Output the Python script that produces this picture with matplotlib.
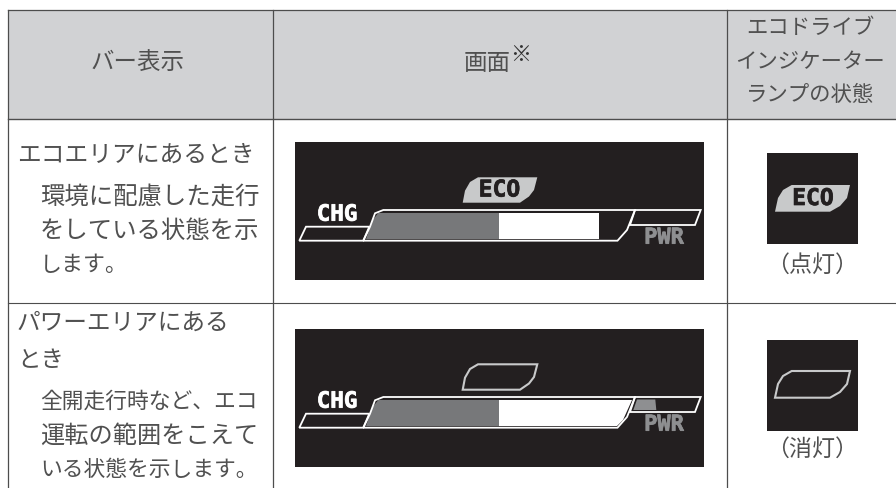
import matplotlib
matplotlib.use("Agg")
import matplotlib.pyplot as plt
from matplotlib.patches import Polygon, Rectangle
import matplotlib.patheffects as pe

plt.rcParams['font.family'] = ['Noto Sans CJK JP', 'DejaVu Sans']

W, H = 896, 488
INK = '#505050'
GRID = '#4d4d4d'
HEAD = '#d1d2d4'
PANEL = '#231f20'
LEAFC = '#c8c9ca'
BARG = '#77787a'

# table text
header_first = 'バー表示'
header_second = '画面'
header_mark = '※'
header_third = ['エコドライブ', 'インジケーター', 'ランプの状態']
row_left = [
    [('エコエリアにあるとき', 17, 255, 155),
     ('環境に配慮した走行', 40, 260, 197),
     ('をしている状態を示', 40, 260, 231),
     ('します。', 40, 128, 265)],
    [('パワーエリアにある', 17, 230, 323),
     ('とき', 17, 64, 361),
     ('全開走行時など、エコ', 40, 258, 402),
     ('運転の範囲をこえて', 40, 258, 436),
     ('いる状態を示します。', 40, 258, 470)],
]
lamp_states = ['（点灯）', '（消灯）']
panel_top = [142, 329]
lamp_top = [153, 340]

# gauge shapes, screen pixels relative to the first panel
gauge_outline = [(383.3, 210), (635, 210), (627, 230), (617.5, 240.7), (363.3, 240.7), (370, 226.7), (375, 213.3)]
chg_box = [(306, 226.7), (369.3, 226.7), (363.3, 240.7), (299.3, 240.7)]
pwr_box = [(635, 210), (700.7, 210), (695, 225), (630, 225)]
grey_fill = [(366, 239), (372.7, 220), (378.3, 213), (499, 213), (499, 239)]
white_fill_eco = [(499, 213), (599, 213), (599, 239), (499, 239)]
white_fill_pwr = [(499, 213), (632, 213), (623, 233), (617, 239), (499, 239)]
pwr_fill = [(637, 212.5), (655.3, 212.5), (656.3, 223), (633.3, 223)]
leaf_main = [(462.7, 202.7), (465, 190.7), (470, 182), (478, 177.3), (537.3, 177.3), (534, 190), (529, 196.5), (520, 202.7)]
leaf_lamp = [(775, 211.7), (778, 198), (783, 190), (791.7, 185), (850, 185), (847, 198), (840, 206), (830, 211.7)]

fig = plt.figure(figsize=(W / 100, H / 100), dpi=100, facecolor='white')
ax = fig.add_axes([0, 0, 1, 1])
ax.set_xlim(0, W)
ax.set_ylim(H, 0)
ax.axis('off')


def shift(pts, dy):
    return [(x, y + dy) for x, y in pts]


def line_text(s, x0, x1, y):
    ax.text(x0, y, s, fontsize=(x1 - x0) / len(s) * 0.72, color=INK, ha='left', va='center')


def center_text(s, x, y, px):
    ax.text(x, y, s, fontsize=px * 0.72, color=INK, ha='center', va='center')


def pixel_label(s, x, y, px, color):
    t = ax.text(x, y, s, fontsize=px * 0.72, color=color, family='DejaVu Sans Mono', weight='bold',
                ha='center', va='center')
    t.set_path_effects([pe.withStroke(linewidth=0.5, foreground=color)])


# header and grid
ax.add_patch(Rectangle((8, 9.5), W - 8, 109, facecolor=HEAD, edgecolor='none'))
ax.plot([8, W], [9.5, 9.5], color=GRID, lw=0.9)
ax.plot([8, W], [118.5, 118.5], color=GRID, lw=1.0)
ax.plot([8, W], [302.5, 302.5], color=GRID, lw=0.8)
for x in (8, 273, 726.5):
    ax.plot([x, x], [9.5, H], color=GRID, lw=0.9)

center_text(header_first, 138, 63, 23.5)
center_text(header_second, 487, 63, 23.5)
ax.text(521, 55, header_mark, fontsize=15, color='#333333', ha='center', va='center')
for s, y in zip(header_third, (28, 62, 95)):
    center_text(s, 810, y, 21.4)

for row in row_left:
    for s, x0, x1, y in row:
        line_text(s, x0, x1, y)

# panels
for i, top in enumerate(panel_top):
    dy = top - panel_top[0]
    ax.add_patch(Rectangle((295, top), 409, 137.7, facecolor=PANEL, edgecolor='none'))
    ax.add_patch(Polygon(shift(grey_fill, dy), closed=True, facecolor=BARG, edgecolor='none'))
    white = white_fill_eco if i == 0 else white_fill_pwr
    ax.add_patch(Polygon(shift(white, dy), closed=True, facecolor='white', edgecolor='none'))
    if i == 1:
        ax.add_patch(Polygon(shift(pwr_fill, dy), closed=True, facecolor='#8e8f91', edgecolor='none'))
    for poly in (gauge_outline, chg_box, pwr_box):
        ax.add_patch(Polygon(shift(poly, dy), closed=True, fill=False, edgecolor='white', lw=1.3))
    pixel_label('CHG', 337, 214.7 + dy, 22.5, 'white')
    pixel_label('PWR', 664, 237.7 + dy, 22, '#8e8f91')
    if i == 0:
        ax.add_patch(Polygon(leaf_main, closed=True, facecolor=LEAFC, edgecolor='none'))
        pixel_label('ECO', 499.5, 190, 23, PANEL)
    else:
        ax.add_patch(Polygon(shift(leaf_main, dy), closed=True, fill=False, edgecolor=LEAFC, lw=1.5))

# lamps
for i, top in enumerate(lamp_top):
    dy = top - lamp_top[0]
    ax.add_patch(Rectangle((767, top), 90.7, 90.7, facecolor=PANEL, edgecolor='none'))
    if i == 0:
        ax.add_patch(Polygon(leaf_lamp, closed=True, facecolor=LEAFC, edgecolor='none'))
        pixel_label('ECO', 813, 198.5, 23, PANEL)
    else:
        ax.add_patch(Polygon(shift(leaf_lamp, dy - 1), closed=True, fill=False, edgecolor=LEAFC, lw=1.5))
    ax.text(812, 265 + dy - (3 if i else 0), lamp_states[i], fontsize=23 * 0.72, color=INK, ha='center', va='center')

fig.savefig('out.png', dpi=100, facecolor='white')
